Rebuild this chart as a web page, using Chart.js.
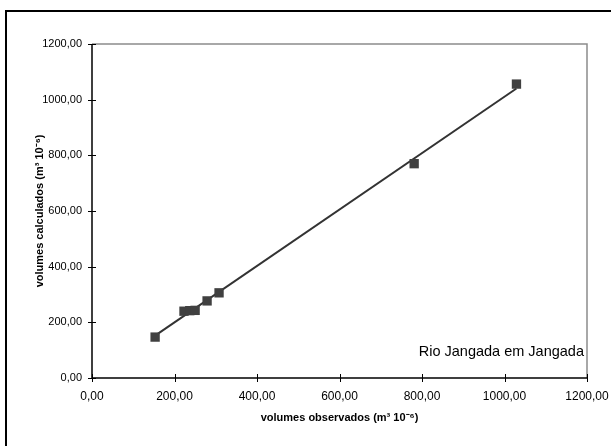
<!DOCTYPE html>
<html>
<head>
<meta charset="utf-8">
<script src="https://cdn.jsdelivr.net/npm/chart.js@4.4.0/dist/chart.umd.min.js"></script>
<style>
  html, body { margin: 0; padding: 0; background: #fff; overflow: hidden; }
  #wrap { position: relative; width: 611px; height: 446px; }
  #frame {
    position: absolute; left: 5px; top: 10px; width: 700px; height: 500px;
    border: 2px solid #000; pointer-events: none;
  }
</style>
</head>
<body>
<div id="wrap">
  <canvas id="chart" width="611" height="446"></canvas>
  <div id="frame"></div>
</div>
<script>
const observed   = [153, 223, 237, 250, 279, 308, 781, 1029]
const calculated = [147, 240, 242, 243, 277, 306, 770, 1056]

// linear trendline ends, as drawn in the picture
const trendObserved   = [153, 1029]
const trendCalculated = [152, 1040]

const xTicks = [0, 200, 400, 600, 800, 1000, 1200]
const yTicks = [0, 200, 400, 600, 800, 1000, 1200]

const stationLabel = 'Rio Jangada em Jangada'
const xTitle = 'volumes observados (m³ 10⁻⁶)'
const yTitle = 'volumes calculados (m³ 10⁻⁶)'

const fontFamily = '"Liberation Sans", Arial, sans-serif'
const fmt = (v) => v.toFixed(2).replace('.', ',')

// Excel-like crossing tick marks, gray plot border and the station label
const excelLook = {
  id: 'excelLook',
  afterDraw(chart) {
    const { ctx, chartArea: a, scales: { x, y } } = chart
    ctx.save()
    ctx.strokeStyle = '#8c8c8c'
    ctx.lineWidth = 1.5
    ctx.beginPath()
    ctx.moveTo(a.left, a.top)
    ctx.lineTo(a.right, a.top)
    ctx.lineTo(a.right, a.bottom)
    ctx.stroke()

    ctx.strokeStyle = '#000'
    ctx.lineWidth = 1.5
    ctx.beginPath()
    ctx.moveTo(a.left, a.top)
    ctx.lineTo(a.left, a.bottom)
    ctx.lineTo(a.right, a.bottom)
    ctx.stroke()

    ctx.lineWidth = 1
    ctx.beginPath()
    x.ticks.forEach(t => {
      const px = Math.round(x.getPixelForValue(t.value)) + 0.5
      ctx.moveTo(px, a.bottom - 4)
      ctx.lineTo(px, a.bottom + 4)
    })
    y.ticks.forEach(t => {
      const py = Math.round(y.getPixelForValue(t.value)) + 0.5
      ctx.moveTo(a.left - 4, py)
      ctx.lineTo(a.left + 4, py)
    })
    ctx.stroke()

    ctx.fillStyle = '#000'
    ctx.font = '14.5px ' + fontFamily
    ctx.textAlign = 'right'
    ctx.textBaseline = 'middle'
    ctx.fillText(stationLabel, a.right - 3, a.bottom - 26)
    ctx.restore()
  }
}

const ctx = document.getElementById('chart').getContext('2d')

new Chart(ctx, {
  type: 'scatter',
  data: {
    datasets: [
      {
        label: 'trend',
        data: trendObserved.map((v, i) => ({ x: v, y: trendCalculated[i] })),
        showLine: true,
        borderColor: '#333333',
        borderWidth: 2,
        pointRadius: 0,
        order: 1
      },
      {
        label: 'volumes',
        data: observed.map((v, i) => ({ x: v, y: calculated[i] })),
        pointStyle: 'rect',
        pointRadius: 6.6,
        backgroundColor: '#404040',
        borderColor: '#404040',
        borderWidth: 0,
        order: 0
      }
    ]
  },
  options: {
    responsive: false,
    animation: false,
    layout: { padding: { left: 0, right: 24, top: 44, bottom: 0 } },
    plugins: {
      legend: { display: false },
      tooltip: { enabled: false }
    },
    scales: {
      x: {
        type: 'linear',
        min: 0,
        max: 1200,
        afterBuildTicks: (scale) => { scale.ticks = xTicks.map(v => ({ value: v })) },
        afterFit: (scale) => {
          scale.height = 68
          scale.paddingLeft = 0
          scale.paddingRight = 0
        },
        grid: { display: false, drawTicks: false },
        border: { display: false },
        ticks: {
          color: '#000',
          padding: 11,
          maxRotation: 0,
          font: { family: fontFamily, size: 12 },
          callback: (v) => fmt(v)
        },
        title: {
          display: true,
          text: xTitle,
          color: '#000',
          padding: { top: 0, bottom: 21 },
          font: { family: fontFamily, size: 11, weight: 'bold' }
        }
      },
      y: {
        type: 'linear',
        min: 0,
        max: 1200,
        afterBuildTicks: (scale) => { scale.ticks = yTicks.map(v => ({ value: v })) },
        afterFit: (scale) => { scale.width = 92 },
        grid: { display: false, drawTicks: false },
        border: { display: false },
        ticks: {
          color: '#000',
          padding: 10,
          font: { family: fontFamily, size: 11 },
          callback: (v) => fmt(v)
        },
        title: {
          display: true,
          text: yTitle,
          color: '#000',
          padding: { top: 33, bottom: 0 },
          font: { family: fontFamily, size: 11, weight: 'bold' }
        }
      }
    }
  },
  plugins: [excelLook]
})
</script>
</body>
</html>
